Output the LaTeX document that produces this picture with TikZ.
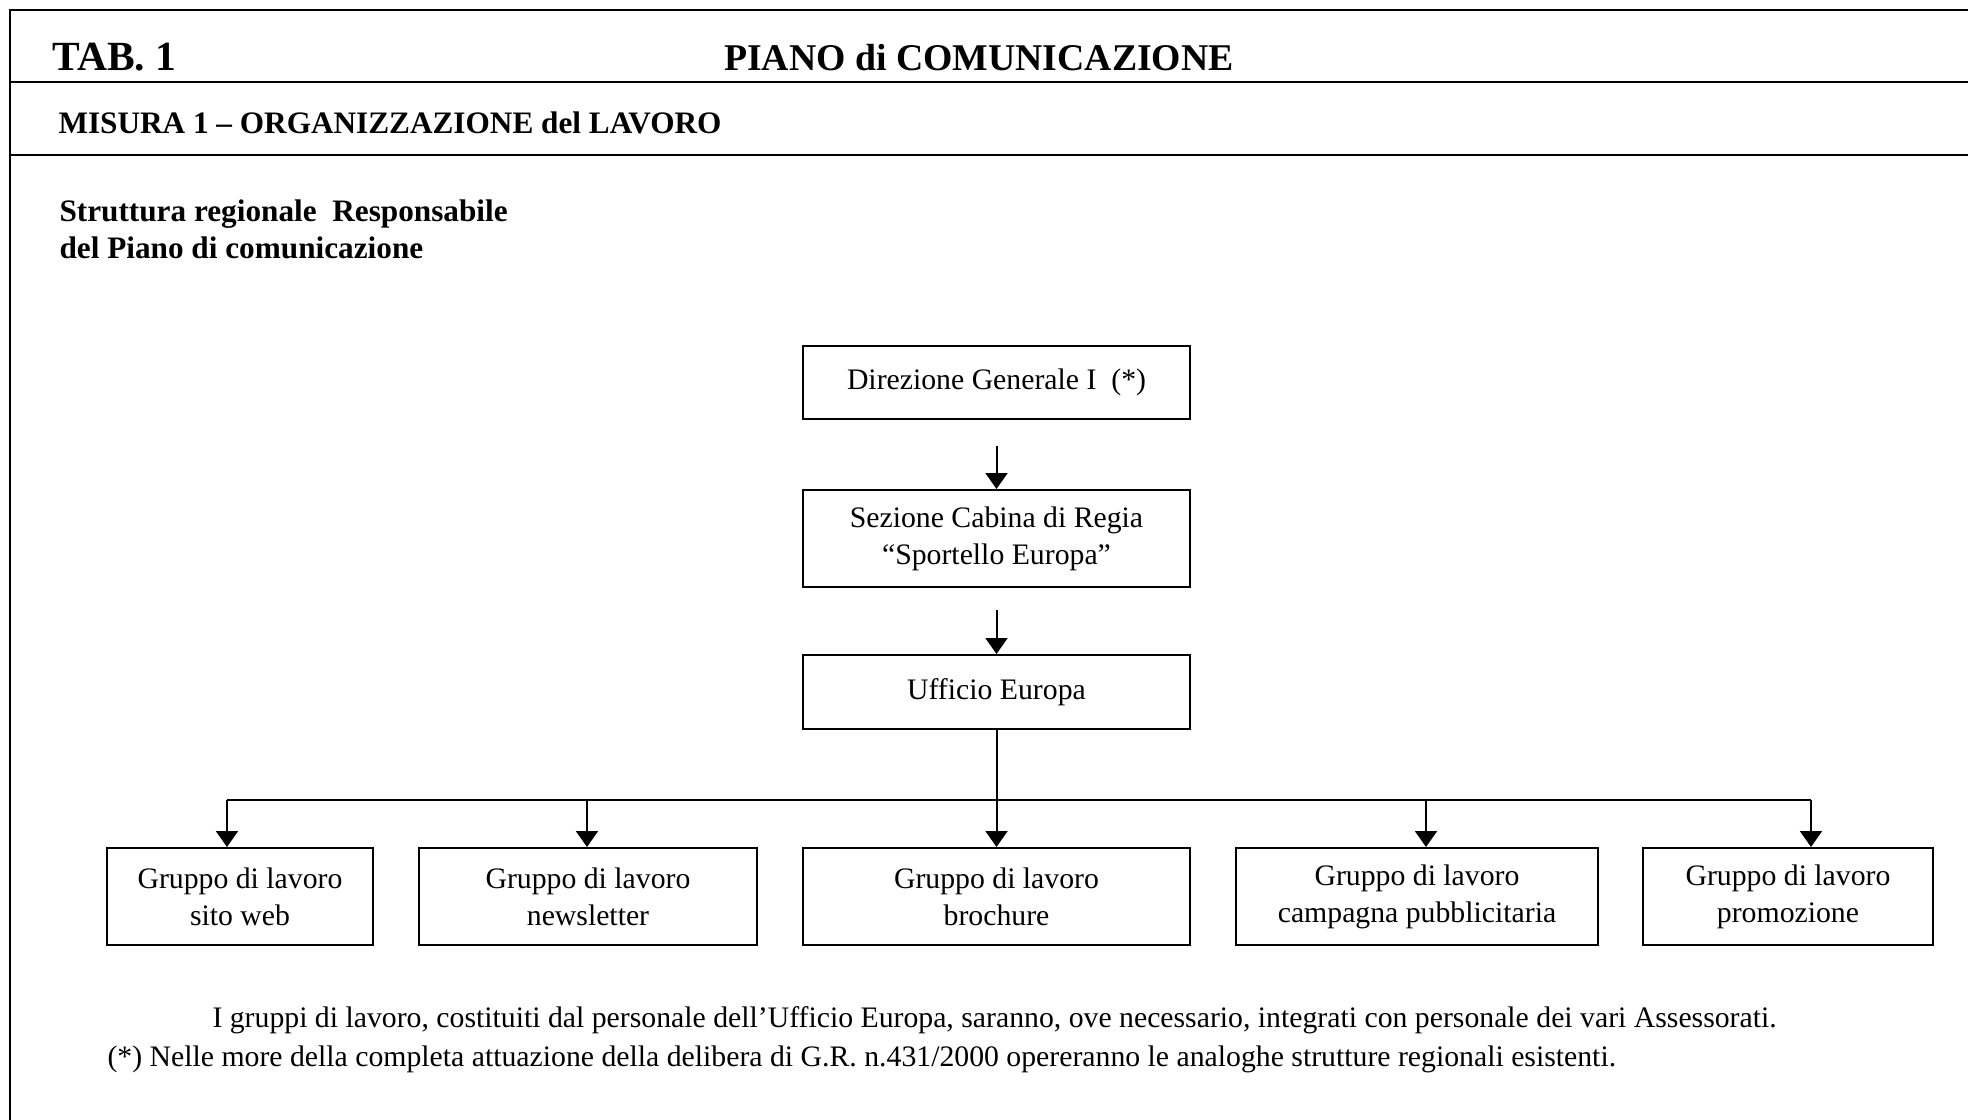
\documentclass[tikz,border=0pt]{standalone}
\usepackage{fontspec}
\setmainfont{Liberation Serif}
\usetikzlibrary{arrows.meta}
\begin{document}
\begin{tikzpicture}[x=0.4pt,y=-0.4pt,
  frameline/.style={line width=1pt},
  box/.style={draw, line width=0.8pt, align=center, inner sep=0pt,
    font=\fontsize{11.9}{14.8}\selectfont},
  conn/.style={line width=0.8pt},
  arr/.style={conn, -{Triangle[width=8.8pt,length=6.4pt]}},
  head/.style={inner sep=0pt, font=\bfseries},
  sub/.style={inner sep=0pt, anchor=base west, font=\fontsize{12.5}{15}\selectfont\bfseries},
  note/.style={inner sep=0pt, anchor=base west, font=\fontsize{11.9}{15}\selectfont}]
\useasboundingbox (0,0) rectangle (1968,1120);
% frame
\draw[frameline] (10,1120) -- (10,10) -- (1968,10);
\draw[frameline] (10,82) -- (1968,82);
\draw[frameline] (10,155) -- (1968,155);
% headings
\node[head, anchor=base west, font=\fontsize{16.6}{19}\selectfont\bfseries] (tab) at (52,70) {TAB. 1};
\node[head, anchor=base, font=\fontsize{15.1}{19}\selectfont\bfseries] (title) at (979,70) {PIANO di COMUNICAZIONE};
\node[sub] (misura) at (58,133) {MISURA 1 – ORGANIZZAZIONE del LAVORO};
\node[sub] (strut1) at (59,221) {Struttura regionale\ \ Responsabile};
\node[sub] (strut2) at (59,258) {del Piano di comunicazione};
% boxes
\node[box, minimum width=154.8pt, minimum height=29.2pt] (dir) at (996.5,382.5) {Direzione Generale I\ \ (*)};
\node[box, minimum width=154.8pt, minimum height=38.8pt] (sez) at (996.5,538.5) {Sezione Cabina di Regia\\“Sportello Europa”};
\node[box, minimum width=154.8pt, minimum height=29.6pt] (uff) at (996.5,692) {Ufficio Europa};
\node[box, minimum width=106.4pt, minimum height=38.8pt] (g1) at (240,896.5) {Gruppo di lavoro\\sito web};
\node[box, minimum width=135.2pt, minimum height=38.8pt] (g2) at (588,896.5) {Gruppo di lavoro\\newsletter};
\node[box, minimum width=154.8pt, minimum height=38.8pt] (g3) at (996.5,896.5) {Gruppo di lavoro\\brochure};
\node[box, minimum width=144.8pt, minimum height=38.8pt] (g4) at (1417,896.5) {Gruppo di lavoro\\campagna pubblicitaria};
\node[box, minimum width=116pt, minimum height=38.8pt] (g5) at (1788,896.5) {Gruppo di lavoro\\promozione};
% connectors
\coordinate (a1) at (996.5,446);
\coordinate (a2) at (996.5,610);
\draw[arr] (a1) -- (sez.north);
\draw[arr] (a2) -- (uff.north);
\draw[arr] (uff.south) -- (g3.north);
\coordinate (h1) at (227,800);
\coordinate (h2) at (587,800);
\coordinate (h4) at (1426,800);
\coordinate (h5) at (1811,800);
\draw[conn] (h1) -- (h5);
\draw[arr] (h1) -- (h1 |- g1.north);
\draw[arr] (h2) -- (h2 |- g2.north);
\draw[arr] (h4) -- (h4 |- g4.north);
\draw[arr] (h5) -- (h5 |- g5.north);
% notes
\node[note] (n1) at (212,1027) {I gruppi di lavoro, costituiti dal personale dell’Ufficio Europa, saranno, ove necessario, integrati con personale dei vari Assessorati.};
\node[note] (n2) at (107,1066) {(*) Nelle more della completa attuazione della delibera di G.R. n.431/2000 opereranno le analoghe strutture regionali esistenti.};
\end{tikzpicture}
\end{document}
